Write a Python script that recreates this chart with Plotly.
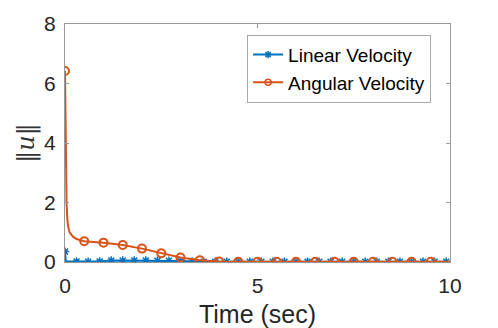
import plotly.graph_objects as go

# angular velocity: curve samples and marker samples (every 0.5 s)
ang_line_t = [0, 0.01, 0.02, 0.03, 0.04, 0.06, 0.08, 0.12, 0.2, 0.3, 0.5, 1.0, 1.5, 2.0, 2.5, 3.0, 3.5, 4.0, 4.5, 5.0, 6.0, 7.0, 8.0, 9.0, 10.0]
ang_line_v = [6.42, 4.6, 3.4, 2.5, 2.0, 1.45, 1.2, 1.0, 0.86, 0.77, 0.70, 0.65, 0.57, 0.45, 0.29, 0.15, 0.06, 0.02, 0.01, 0.01, 0.01, 0.01, 0.01, 0.01, 0.01]
ang_t = [0, 0.5, 1.0, 1.5, 2.0, 2.5, 3.0, 3.5, 4.0, 4.5, 5.0, 5.5, 6.0, 6.5, 7.0, 7.5, 8.0, 8.5, 9.0, 9.5]
ang_v = [6.42, 0.70, 0.65, 0.57, 0.45, 0.29, 0.15, 0.06, 0.02, 0.01, 0.01, 0.01, 0.01, 0.01, 0.01, 0.01, 0.01, 0.01, 0.01, 0.01]

# linear velocity: curve samples and marker samples (every 0.3 s)
lin_line_t = [0, 0.01, 0.02, 0.05, 0.3, 0.6, 0.9, 1.2, 1.5, 1.8, 2.1, 2.4, 2.7, 3.0, 3.3, 3.6, 3.9, 10.0]
lin_line_v = [0.35, 0.1, 0.04, 0.02, 0.02, 0.01, 0.02, 0.05, 0.05, 0.05, 0.05, 0.04, 0.04, 0.03, 0.02, 0.01, 0.01, 0.01]
lin_t = [0, 0.3, 0.6, 0.9, 1.2, 1.5, 1.8, 2.1, 2.4, 2.7, 3.0, 3.3, 3.6, 3.9, 4.2, 4.5, 4.8, 5.1, 5.4, 5.7,
         6.0, 6.3, 6.6, 6.9, 7.2, 7.5, 7.8, 8.1, 8.4, 8.7, 9.0, 9.3, 9.6, 9.9]
lin_v = [0.35, 0.02, 0.01, 0.02, 0.05, 0.05, 0.05, 0.05, 0.04, 0.04, 0.03, 0.02, 0.01, 0.01, 0.01, 0.01, 0.01, 0.01, 0.01, 0.01,
         0.01, 0.01, 0.01, 0.01, 0.01, 0.01, 0.01, 0.01, 0.01, 0.01, 0.01, 0.01, 0.01, 0.01]

blue = '#0072BD'
orange = '#D95319'

fig = go.Figure()

fig.add_trace(go.Scatter(x=lin_line_t, y=lin_line_v, mode='lines', line=dict(color=blue, width=2),
                         showlegend=False, hoverinfo='skip'))
fig.add_trace(go.Scatter(x=lin_t, y=lin_v, mode='markers', showlegend=False,
                         marker=dict(symbol='asterisk-open', size=7, color=blue, line=dict(color=blue, width=1.5))))
fig.add_trace(go.Scatter(x=ang_line_t, y=ang_line_v, mode='lines', line=dict(color=orange, width=2),
                         showlegend=False, hoverinfo='skip'))
fig.add_trace(go.Scatter(x=ang_t, y=ang_v, mode='markers', showlegend=False,
                         marker=dict(symbol='circle-open', size=8, color=orange, line=dict(width=2))))

# legend entries
fig.add_trace(go.Scatter(x=[None], y=[None], mode='lines+markers', name='Linear Velocity',
                         line=dict(color=blue, width=2),
                         marker=dict(symbol='asterisk-open', size=6, color=blue, line=dict(color=blue, width=1.5))))
fig.add_trace(go.Scatter(x=[None], y=[None], mode='lines+markers', name='Angular Velocity',
                         line=dict(color=orange, width=2),
                         marker=dict(symbol='circle-open', size=6, color=orange, line=dict(width=1.5))))

axis_style = dict(showgrid=False, zeroline=False, showline=True, linecolor='#999999', linewidth=1,
                  mirror='ticks', ticks='inside', ticklen=4, tickcolor='#999999', automargin=False,
                  tickfont=dict(family='Liberation Sans', size=21, color='#262626'))

fig.update_xaxes(range=[0, 10], tickvals=[0, 5, 10], ticklabelstandoff=5,
                 title=dict(text='Time (sec)', font=dict(family='Liberation Sans', size=25, color='#262626'),
                            standoff=12),
                 **axis_style)
fig.update_yaxes(range=[0, 8], tickvals=[0, 2, 4, 6, 8], ticklabelstandoff=4,
                 title=dict(text='‖<i>u</i>‖', font=dict(family='DejaVu Serif', size=24, color='#333333'),
                            standoff=2),
                 **axis_style)

fig.update_layout(
    width=498, height=328,
    margin=dict(l=65, r=48, t=24, b=66),
    plot_bgcolor='white', paper_bgcolor='white',
    legend=dict(x=0.473, y=0.955, xanchor='left', yanchor='top',
                bordercolor='#aaaaaa', borderwidth=1, bgcolor='white',
                font=dict(family='Liberation Sans', size=19, color='#000000'),
                tracegroupgap=0, itemwidth=30),
)

# drop the default 8px body margin so the figure fills the window
fig.write_html("out.html", config={'displayModeBar': False},
               post_script="document.body.style.margin='0';")
